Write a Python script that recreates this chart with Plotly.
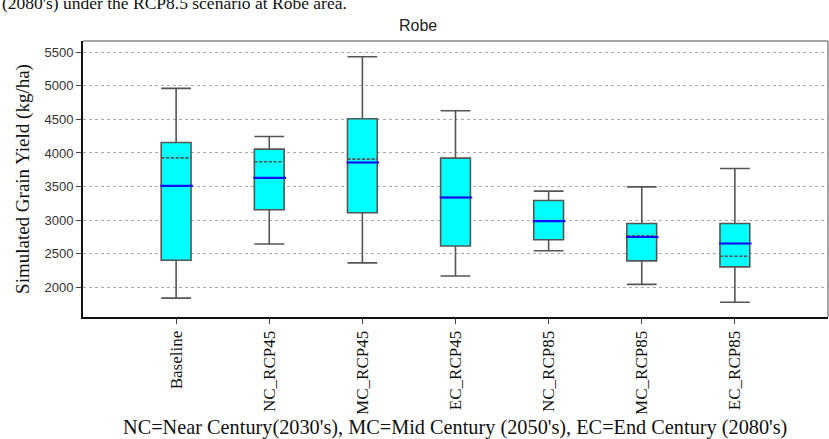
import plotly.graph_objects as go

categories = ["Baseline", "NC_RCP45", "MC_RCP45", "EC_RCP45", "NC_RCP85", "MC_RCP85", "EC_RCP85"]
lower_whisker = [1840, 2645, 2365, 2170, 2545, 2045, 1780]
q1 = [2405, 3155, 3110, 2615, 2710, 2395, 2305]
median = [3510, 3630, 3858, 3337, 2985, 2750, 2653]
mean = [3927, 3868, 3908, 3337, 2985, 2767, 2464]
q3 = [4156, 4057, 4508, 3923, 3293, 2950, 2950]
upper_whisker = [4960, 4245, 5430, 4627, 3432, 3496, 3769]
y_ticks = [2000, 2500, 3000, 3500, 4000, 4500, 5000, 5500]

xpos = list(range(len(categories)))
box_w = 0.32

fig = go.Figure()
fig.add_trace(go.Box(
    x=xpos, q1=q1, median=median, q3=q3,
    lowerfence=lower_whisker, upperfence=upper_whisker, mean=mean,
    boxmean=True, width=box_w, whiskerwidth=1,
    fillcolor="#00FFFF", line=dict(color="#555555", width=1.6),
    boxpoints=False, showlegend=False, hoverinfo="skip",
))

mx, my = [], []
for xi, m in zip(xpos, median):
    mx += [xi - box_w / 2 - 0.01, xi + box_w / 2 + 0.02, None]
    my += [m, m, None]
fig.add_trace(go.Scatter(x=mx, y=my, mode="lines",
                         line=dict(color="#1010ff", width=2.2),
                         showlegend=False, hoverinfo="skip"))

fig.update_layout(
    width=829, height=439,
    margin=dict(l=83, r=1, t=41, b=122),
    paper_bgcolor="white", plot_bgcolor="white",
    font=dict(family="Liberation Sans, Arial", color="#222"),
    xaxis=dict(
        range=[-1, 7], tickmode="array", tickvals=xpos, ticktext=categories,
        tickangle=-90, ticks="outside", ticklen=5, tickcolor="#444",
        tickfont=dict(family="Liberation Serif, Times New Roman", size=17, color="#111"),
        showgrid=False, zeroline=False, automargin=False,
        showline=True, linecolor="#111", linewidth=2,
    ),
    yaxis=dict(
        range=[1560, 5665], tickmode="array", tickvals=y_ticks,
        ticks="outside", ticklen=5, tickcolor="#444",
        tickfont=dict(family="Liberation Sans, Arial", size=13, color="#333"),
        showgrid=True, gridcolor="#aaaaaa", griddash="dot", gridwidth=1,
        zeroline=False, showline=True, linecolor="#111", linewidth=2, automargin=False,
        title=dict(text="Simulated Grain Yield (kg/ha)", standoff=10,
                   font=dict(family="Liberation Serif, Times New Roman", size=19, color="#111")),
    ),
    shapes=[
        dict(type="line", xref="paper", yref="paper", x0=0, x1=1, y0=1, y1=1,
             line=dict(color="#888", width=1.5)),
        dict(type="line", xref="paper", yref="paper", x0=1, x1=1, y0=0, y1=1,
             line=dict(color="#888", width=1.5)),
    ],
    annotations=[
        dict(text="Robe", xref="paper", yref="paper", x=(418 - 83) / 745, y=1.0, yanchor="bottom",
             yshift=5, showarrow=False,
             font=dict(family="Liberation Sans, Arial", size=16, color="#222")),
        dict(text="(2080's) under the RCP8.5 scenario at Robe area.", xref="paper", yref="paper",
             x=-83 / 745, xanchor="left", y=1.094, yanchor="bottom", showarrow=False,
             font=dict(family="Liberation Serif, Times New Roman", size=17.5, color="#111")),
        dict(text="NC=Near Century(2030's), MC=Mid Century (2050's), EC=End Century (2080's)",
             xref="paper", yref="paper", x=(455 - 83) / 745, xanchor="center",
             y=-0.40, yanchor="middle", showarrow=False,
             font=dict(family="Liberation Serif, Times New Roman", size=20.3, color="#111")),
    ],
)

fig.write_html("out.html", config={"displayModeBar": False},
               post_script="document.body.style.margin='0';")
